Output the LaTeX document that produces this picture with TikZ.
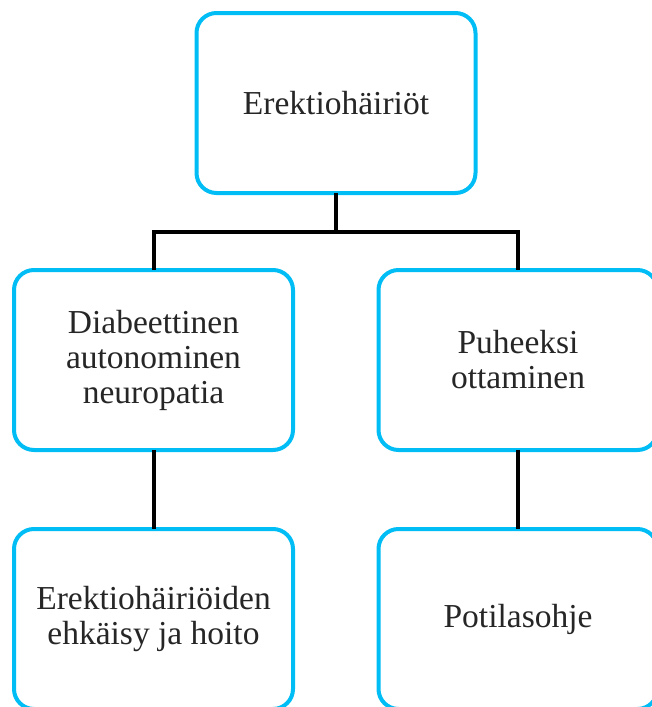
\documentclass[tikz,border=0pt]{standalone}
\usepackage{fontspec}
\setmainfont{Liberation Serif}
\newfontfamily\tnr{Liberation Serif}
\definecolor{boxcyan}{RGB}{0,190,245}
\begin{document}
\begin{tikzpicture}[x=1pt,y=-1pt,
  box/.style={draw=boxcyan, line width=4pt, rounded corners=20pt, fill=white,
    minimum width=279pt, minimum height=180pt, inner sep=0pt, outer sep=0pt,
    align=center, font=\tnr\fontsize{33.5pt}{35pt}\selectfont, text=black!85},
  link/.style={draw=black, line width=4pt}]
\useasboundingbox (0,0) rectangle (651,707);
\node[box] (top) at (336,103) {Erektiohäiriöt};
\node[box] (dan) at (153.5,360) {Diabeettinen\\autonominen\\neuropatia};
\node[box] (puh) at (518,360) {Puheeksi\\ottaminen};
\node[box] (ehk) at (153.5,619) {Erektiohäiriöiden\\ehkäisy ja hoito};
\node[box] (pot) at (518,619) {Potilasohje};
\coordinate (j) at (336,232);
\draw[link] (top.south) -- (j);
\draw[link] (dan.north) |- (j) -| (puh.north);
\draw[link] (dan.south) -- (ehk.north);
\draw[link] (puh.south) -- (pot.north);
\end{tikzpicture}
\end{document}
